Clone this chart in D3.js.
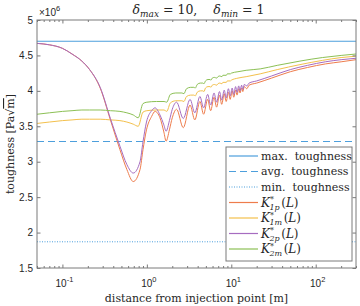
<!DOCTYPE html>
<html>
<head>
<meta charset="utf-8">
<script src="https://cdn.jsdelivr.net/npm/d3@7"></script>
<style>
  body { margin: 0; background: #fff; }
  text { fill: #262626; }
</style>
</head>
<body>
<svg></svg>
<script>
var width = 360;
var height = 306;
var svg = d3.select("svg").attr("width", width).attr("height", height);

// toughness levels (x1e6 Pa sqrt(m))
var maxTough = 4.70, avgTough = 3.285, minTough = 1.87;

// K1p / K2p curves (oscillating)
var distOsc = [0.05, 0.07, 0.1, 0.13, 0.17, 0.21, 0.28, 0.37, 0.48, 0.58,
               0.69, 0.83, 0.9, 0.99, 1.14, 1.25, 1.43, 1.59, 1.69, 1.85,
               2.0, 2.25, 2.7, 3.25, 3.7, 4.25, 4.7, 5.25, 5.7, 6.25,
               6.7, 7.25, 7.7, 8.25, 8.7, 9.25, 9.7, 10.25, 10.7, 11.25,
               11.7, 12.25, 12.7, 13.25, 13.7, 14.25, 15.25, 16.25, 20, 30,
               50, 80, 130, 200, 300];
var k1p = [4.67, 4.65, 4.60, 4.52, 4.42, 4.30, 4.04, 3.59, 3.17, 2.89,
           2.72, 2.89, 3.17, 3.45, 3.64, 3.71, 3.62, 3.42, 3.29, 3.45,
           3.62, 3.74, 3.48, 3.80, 3.59, 3.85, 3.67, 3.88, 3.72, 3.91,
           3.77, 3.94, 3.81, 3.96, 3.85, 3.98, 3.88, 4.00, 3.91, 4.01,
           3.94, 4.03, 3.97, 4.04, 3.99, 4.06, 4.03, 4.08, 4.11, 4.18,
           4.27, 4.33, 4.38, 4.41, 4.44];
var k2p = [4.67, 4.65, 4.60, 4.52, 4.42, 4.30, 4.05, 3.61, 3.22, 2.96,
           2.84, 3.00, 3.28, 3.56, 3.72, 3.76, 3.66, 3.52, 3.43, 3.58,
           3.74, 3.84, 3.61, 3.88, 3.69, 3.92, 3.76, 3.95, 3.80, 3.97,
           3.84, 3.99, 3.87, 4.01, 3.90, 4.03, 3.93, 4.04, 3.95, 4.06,
           3.98, 4.07, 4.00, 4.08, 4.02, 4.09, 4.07, 4.11, 4.14, 4.21,
           4.30, 4.36, 4.41, 4.44, 4.46];

// K1m / K2m curves (staircase)
var distStep = [0.05, 0.07, 0.1, 0.13, 0.17, 0.21, 0.28, 0.37, 0.48, 0.58,
                0.69, 0.79, 0.9, 1.0, 1.3, 1.6, 1.72, 1.9, 2.2, 2.6,
                2.75, 2.95, 3.3, 3.6, 3.75, 3.95, 4.3, 4.6, 4.75, 4.95,
                5.3, 5.6, 5.75, 5.95, 6.3, 6.75, 6.95, 7.3, 7.75, 7.95,
                8.75, 8.95, 9.75, 10, 12, 15, 22, 35, 65, 120,
                200, 300];
var k1m = [3.54, 3.56, 3.58, 3.59, 3.60, 3.60, 3.60, 3.59, 3.58, 3.56,
           3.53, 3.50, 3.70, 3.72, 3.73, 3.73, 3.71, 3.83, 3.86, 3.86,
           3.85, 3.92, 3.94, 3.94, 3.93, 3.98, 4.00, 4.00, 3.99, 4.04,
           4.06, 4.06, 4.05, 4.08, 4.09, 4.08, 4.10, 4.11, 4.10, 4.12,
           4.12, 4.14, 4.14, 4.15, 4.18, 4.20, 4.24, 4.30, 4.37, 4.43,
           4.47, 4.49];
var k2m = [3.67, 3.69, 3.71, 3.72, 3.73, 3.73, 3.73, 3.72, 3.71, 3.69,
           3.66, 3.62, 3.82, 3.84, 3.85, 3.85, 3.84, 3.95, 3.97, 3.97,
           3.96, 4.03, 4.05, 4.05, 4.04, 4.09, 4.11, 4.11, 4.10, 4.14,
           4.16, 4.16, 4.15, 4.18, 4.19, 4.18, 4.20, 4.21, 4.20, 4.22,
           4.22, 4.24, 4.24, 4.25, 4.27, 4.29, 4.31, 4.36, 4.42, 4.47,
           4.50, 4.52];

var yTicks = [1.5, 2, 2.5, 3, 3.5, 4, 4.5, 5];
var yTickLabels = ["1.5", "2", "2.5", "3", "3.5", "4", "4.5", "5"];
var xTicks = [0.1, 1, 10, 100];
var xTickExp = ["-1", "0", "1", "2"];

var colBlue = "#4d9fdc", colOrange = "#ee7c4c", colYellow = "#f3c04c",
    colPurple = "#a66cc0", colGreen = "#8cc055";

var pL = 37, pR = 356, pT = 20, pB = 268;

var xScale = d3.scaleLog().domain([0.05, 300]).range([pL, pR]);
var yScale = d3.scaleLinear().domain([1.5, 5]).range([pB, pT]);

// minor log ticks
var minorTicks = [];
[0.01, 0.1, 1, 10, 100].forEach(function(p) {
  for (var m = 2; m <= 9; m++) {
    var v = p * m;
    if (v >= 0.05 && v <= 300) minorTicks.push(v);
  }
});

svg.append("clipPath").attr("id", "clip")
  .append("rect").attr("x", pL).attr("y", pT)
  .attr("width", pR - pL).attr("height", pB - pT);

var plot = svg.append("g").attr("clip-path", "url(#clip)");

// horizontal toughness lines
plot.append("line").attr("x1", pL).attr("x2", pR)
  .attr("y1", yScale(maxTough)).attr("y2", yScale(maxTough))
  .attr("stroke", colBlue).attr("stroke-width", 1.2);
plot.append("line").attr("x1", pL).attr("x2", pR)
  .attr("y1", yScale(avgTough)).attr("y2", yScale(avgTough))
  .attr("stroke", colBlue).attr("stroke-width", 1.2).attr("stroke-dasharray", "7,4");
plot.append("line").attr("x1", pL).attr("x2", pR)
  .attr("y1", yScale(minTough)).attr("y2", yScale(minTough))
  .attr("stroke", colBlue).attr("stroke-width", 1).attr("stroke-dasharray", "1,1.5");

var line = d3.line()
  .x(function(d) { return xScale(d[0]); })
  .y(function(d) { return yScale(d[1]); })
  .curve(d3.curveMonotoneX);

var series = [
  {dist: distOsc, vals: k1p, color: colOrange},
  {dist: distStep, vals: k1m, color: colYellow},
  {dist: distOsc, vals: k2p, color: colPurple},
  {dist: distStep, vals: k2m, color: colGreen}
];
series.forEach(function(s) {
  plot.append("path")
    .datum(d3.zip(s.dist, s.vals))
    .attr("d", line)
    .attr("fill", "none")
    .attr("stroke", s.color)
    .attr("stroke-width", 1);
});

// axes box and ticks
var axisCol = "#7a7a7a";
function styleAxis(g) {
  g.select(".domain").remove();
  g.selectAll("line").attr("stroke", axisCol);
}
svg.append("g").attr("transform", "translate(0," + pB + ")")
  .call(d3.axisBottom(xScale).tickValues(xTicks).tickSize(-3.5).tickFormat(""))
  .call(styleAxis);
svg.append("g").attr("transform", "translate(0," + pB + ")")
  .call(d3.axisBottom(xScale).tickValues(minorTicks).tickSize(-2).tickFormat(""))
  .call(styleAxis);
svg.append("g").attr("transform", "translate(0," + pT + ")")
  .call(d3.axisTop(xScale).tickValues(xTicks).tickSize(-3.5).tickFormat(""))
  .call(styleAxis);
svg.append("g").attr("transform", "translate(0," + pT + ")")
  .call(d3.axisTop(xScale).tickValues(minorTicks).tickSize(-2).tickFormat(""))
  .call(styleAxis);
svg.append("g").attr("transform", "translate(" + pL + ",0)")
  .call(d3.axisLeft(yScale).tickValues(yTicks).tickSize(-3.5).tickFormat(""))
  .call(styleAxis);
svg.append("g").attr("transform", "translate(" + pR + ",0)")
  .call(d3.axisRight(yScale).tickValues(yTicks).tickSize(-3.5).tickFormat(""))
  .call(styleAxis);

svg.append("rect").attr("x", pL).attr("y", pT)
  .attr("width", pR - pL).attr("height", pB - pT)
  .attr("fill", "none").attr("stroke", axisCol).attr("stroke-width", 1);

// y tick labels
svg.selectAll(".ylab").data(yTicks).enter().append("text")
  .attr("x", pL - 4).attr("y", function(d) { return yScale(d) + 3.5; })
  .attr("text-anchor", "end")
  .style("font-family", "Liberation Sans, Arial, sans-serif").style("font-size", "10px")
  .text(function(d, i) { return yTickLabels[i]; });

// x tick labels 10^n
xTicks.forEach(function(t, i) {
  var tx = svg.append("text")
    .attr("x", xScale(t) + 2).attr("y", pB + 19)
    .attr("text-anchor", "middle")
    .style("font-family", "Liberation Sans, Arial, sans-serif").style("font-size", "10px");
  tx.append("tspan").text("10");
  tx.append("tspan").attr("dy", -5).style("font-size", "7.5px").text(xTickExp[i]);
});

// exponent label
var ex = svg.append("text").attr("x", pL + 2).attr("y", 16)
  .style("font-family", "Liberation Sans, Arial, sans-serif").style("font-size", "10px");
ex.append("tspan").text("\u00d710");
ex.append("tspan").attr("dy", -5).style("font-size", "7.5px").text("6");

// title
var serif = "DejaVu Serif, Liberation Serif, serif";
var title = svg.append("text").attr("x", (pL + pR) / 2 + 2).attr("y", 14)
  .attr("text-anchor", "middle").style("font-family", serif).style("font-size", "12.5px");
title.append("tspan").style("font-style", "italic").text("\u03b4");
title.append("tspan").attr("dy", 3).style("font-style", "italic").style("font-size", "9px").text("max");
title.append("tspan").attr("dy", -3).text(" = 10,");
title.append("tspan").attr("dx", 16).style("font-style", "italic").text("\u03b4");
title.append("tspan").attr("dy", 3).style("font-style", "italic").style("font-size", "9px").text("min");
title.append("tspan").attr("dy", -3).text(" = 1");

// axis labels
svg.append("text").attr("x", (pL + pR) / 2).attr("y", 302)
  .attr("text-anchor", "middle").style("font-family", serif).style("font-size", "11px")
  .text("distance from injection point [m]");
var yl = svg.append("text")
  .attr("transform", "translate(14," + ((pT + pB) / 2) + ") rotate(-90)")
  .attr("text-anchor", "middle").style("font-family", serif).style("font-size", "11px");
yl.append("tspan").text("toughness [Pa\u221a");
yl.append("tspan").style("text-decoration", "overline").text("m");
yl.append("tspan").text("]");

// legend
var lg = svg.append("g");
lg.append("rect").attr("x", 226).attr("y", 147).attr("width", 126).attr("height", 114)
  .attr("fill", "#fff").attr("stroke", axisCol).attr("stroke-width", 1);
var legItems = [
  {label: "max.  toughness", color: colBlue, dash: null},
  {label: "avg.  toughness", color: colBlue, dash: "7,4"},
  {label: "min.  toughness", color: colBlue, dash: "1,1.5"},
  {sub: "1p", color: colOrange, dash: null},
  {sub: "1m", color: colYellow, dash: null},
  {sub: "2p", color: colPurple, dash: null},
  {sub: "2m", color: colGreen, dash: null}
];
legItems.forEach(function(it, i) {
  var ly = 156 + i * 15.5;
  lg.append("line").attr("x1", 229).attr("x2", 258).attr("y1", ly).attr("y2", ly)
    .attr("stroke", it.color).attr("stroke-width", 1.2)
    .attr("stroke-dasharray", it.dash);
  if (it.label) {
    lg.append("text").attr("x", 261).attr("y", ly + 3.5)
      .attr("xml:space", "preserve")
      .style("font-family", serif).style("font-size", "11px").text(it.label);
  } else {
    var bx = 261;
    var k = lg.append("text").attr("x", bx).attr("y", ly + 4)
      .style("font-family", serif).style("font-size", "12px").style("font-style", "italic").text("K");
    var kw = k.node().getComputedTextLength();
    lg.append("text").attr("x", bx + kw).attr("y", ly - 0.5)
      .style("font-family", serif).style("font-size", "8px").text("*");
    var sb = lg.append("text").attr("x", bx + kw - 0.5).attr("y", ly + 7)
      .style("font-family", serif).style("font-size", "8px").style("font-style", "italic").text(it.sub);
    var sw = sb.node().getComputedTextLength();
    var p = lg.append("text").attr("x", bx + kw + sw + 1).attr("y", ly + 4)
      .style("font-family", serif).style("font-size", "12px");
    p.append("tspan").text("(");
    p.append("tspan").style("font-style", "italic").text("L");
    p.append("tspan").text(")");
  }
});
</script>
</body>
</html>
